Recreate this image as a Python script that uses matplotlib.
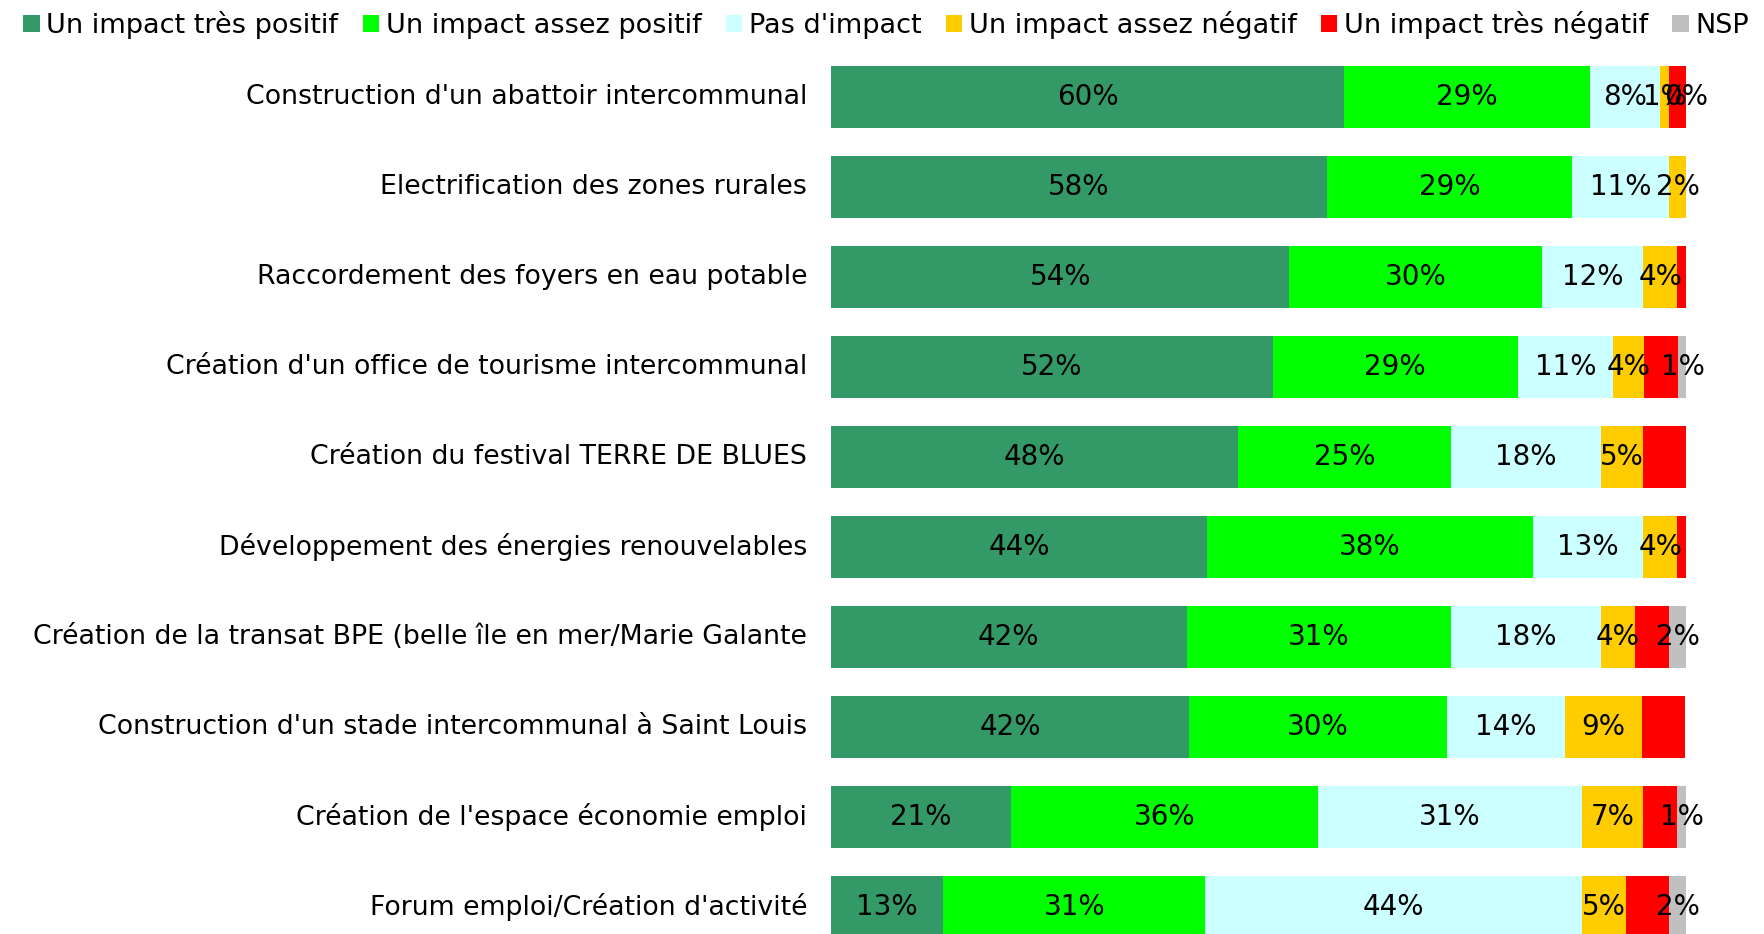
import numpy as np
import matplotlib
matplotlib.use("Agg")
import matplotlib.pyplot as plt
from matplotlib.patches import Patch

# categories, top to bottom
categories = [
    "Construction d'un abattoir intercommunal",
    "Electrification des zones rurales",
    "Raccordement des foyers en eau potable",
    "Création d'un office de tourisme intercommunal",
    "Création du festival TERRE DE BLUES",
    "Développement des énergies renouvelables",
    "Création de la transat BPE (belle île en mer/Marie Galante",
    "Construction d'un stade intercommunal à Saint Louis",
    "Création de l'espace économie emploi",
    "Forum emploi/Création d'activité",
]

series_names = ["Un impact très positif", "Un impact assez positif", "Pas d'impact",
                "Un impact assez négatif", "Un impact très négatif", "NSP"]

# percentages (nan = no value)
tres_positif = [60.0, 58.0, 53.6, 51.7, 47.6, 44.0, 41.6, 41.9, 21.0, 13.1]
assez_positif = [28.8, 28.7, 29.6, 28.6, 24.9, 38.1, 30.9, 30.1, 36.0, 30.7]
pas_impact = [8.2, 11.3, 11.8, 11.2, 17.6, 12.9, 17.6, 13.8, 30.8, 44.0]
assez_negatif = [1.0, 2.0, 4.0, 3.6, 4.9, 4.0, 3.9, 9.1, 7.2, 5.2]
tres_negatif = [2.0, 0.0, 1.0, 4.0, 5.0, 1.0, 4.0, 5.0, 4.0, 5.0]
nsp = [0.0, np.nan, np.nan, 1.0, np.nan, np.nan, 2.0, np.nan, 1.0, 2.0]

colors = ["#339966", "#00FF00", "#CCFFFF", "#FFCC00", "#FF0000", "#C0C0C0"]
show_labels = [True, True, True, True, False, True]

data = [tres_positif, assez_positif, pas_impact, assez_negatif, tres_negatif, nsp]

W, H = 1765, 934
fig = plt.figure(figsize=(W / 100, H / 100), dpi=100)
ax = fig.add_axes([831 / W, 0, (1686 - 831) / W, 1])
ax.set_xlim(0, 100)
ax.set_ylim((H - 97) / 90, -97 / 90)
ax.axis("off")

y = np.arange(len(categories))
left = np.zeros(len(categories))
for vals, col, lab in zip(data, colors, show_labels):
    v = np.array(vals, dtype=float)
    ax.barh(y, np.nan_to_num(v), left=left, height=62 / 90, color=col, linewidth=0)
    if lab:
        for i in range(len(v)):
            if np.isnan(v[i]):
                continue
            ax.text(left[i] + v[i] / 2, y[i], "%d%%" % round(v[i]), ha="center", va="center",
                    fontsize=20, color="black", clip_on=False)
    left = left + np.nan_to_num(v)

for i, c in enumerate(categories):
    ax.text(-2.8, y[i], c, ha="right", va="center", fontsize=19.3, color="black", clip_on=False)

handles = [Patch(facecolor=c, edgecolor="none") for c in colors]
fig.legend(handles, series_names, loc="upper left", bbox_to_anchor=(0.004, 1.006), ncol=6,
           frameon=False, fontsize=19.5, handlelength=0.6, handleheight=0.6, handletextpad=0.25,
           columnspacing=0.9, borderaxespad=0.2)

fig.savefig("out.png", dpi=100)
